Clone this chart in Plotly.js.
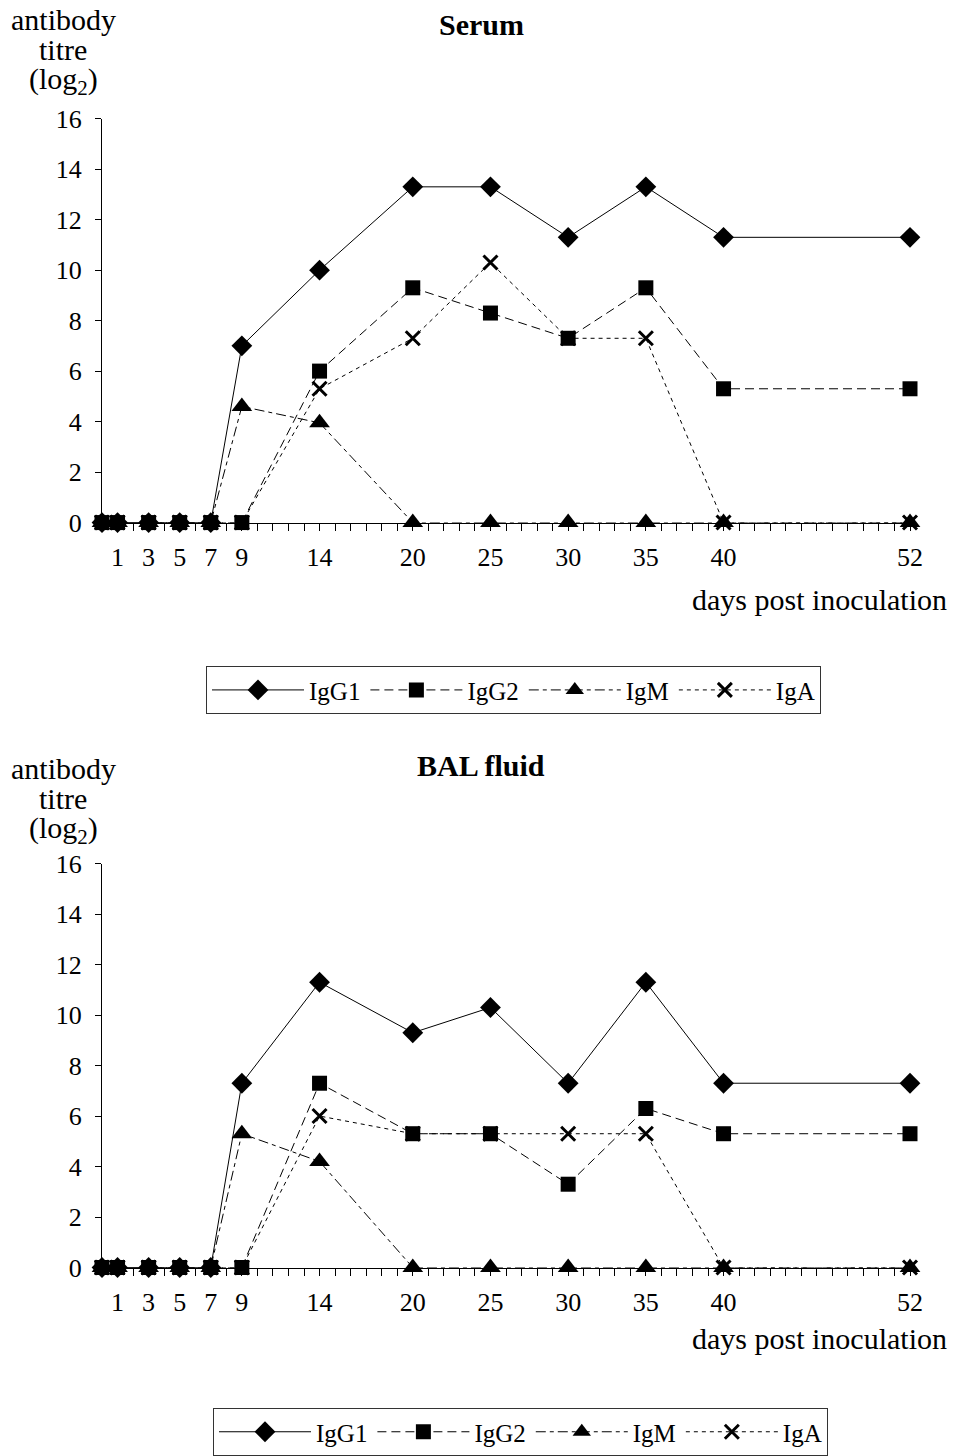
<!DOCTYPE html>
<html>
<head>
<meta charset="utf-8">
<script src="https://cdn.plot.ly/plotly-3.0.1.min.js"></script>
<style>
  html, body { margin: 0; padding: 0; background: #fff; }
  #chart { width: 955px; height: 1456px; }
</style>
</head>
<body>
<div id="chart"></div>
<script>
// ---- data ----
const days = [0, 1, 3, 5, 7, 9, 14, 20, 25, 30, 35, 40, 52];
const tickLabelDays = [1, 3, 5, 7, 9, 14, 20, 25, 30, 35, 40, 52];
const seriesNames = ['IgG1', 'IgG2', 'IgM', 'IgA'];

const serumIgG1 = [0, 0, 0, 0, 0, 7.0, 10.0, 13.3, 13.3, 11.3, 13.3, 11.3, 11.3];
const serumIgG2 = [0, 0, 0, 0, 0, 0, 6.0, 9.3, 8.3, 7.3, 9.3, 5.3, 5.3];
const serumIgM  = [0, 0, 0, 0, 0, 4.6, 3.95, 0, 0, 0, 0, 0, 0];
const serumIgA  = [0, 0, 0, 0, 0, 0, 5.3, 7.3, 10.3, 7.3, 7.3, 0, 0];

const balIgG1 = [0, 0, 0, 0, 0, 7.3, 11.3, 9.3, 10.3, 7.3, 11.3, 7.3, 7.3];
const balIgG2 = [0, 0, 0, 0, 0, 0, 7.3, 5.3, 5.3, 3.3, 6.3, 5.3, 5.3];
const balIgM  = [0, 0, 0, 0, 0, 5.3, 4.2, 0, 0, 0, 0, 0, 0];
const balIgA  = [0, 0, 0, 0, 0, 0, 6.0, 5.3, 5.3, 5.3, 5.3, 0, 0];

// ---- styles ----
const W = 955, H = 1456;
const FONT = '"Liberation Serif", "Times New Roman", Times, serif';
const styles = {
  IgG1: { dash: 'solid', symbol: 'diamond', size: 16, rank: 1 },
  IgG2: { dash: '9px,5px', symbol: 'square', size: 15, rank: 2 },
  IgM:  { dash: '10px,4px,4px,4px', symbol: 'triangle-up', size: 18, rank: 3 },
  IgA:  { dash: '4px,4px', symbol: 'x-thin-open', size: 14, rank: 4 }
};
// draw order (squares on top at the baseline, crosses over triangles)
const drawOrder = ['IgG1', 'IgM', 'IgA', 'IgG2'];

function makeTraces(values, xa, ya, legendId) {
  return drawOrder.map(name => {
    const s = styles[name];
    const marker = { symbol: s.symbol, size: s.size, color: '#000' };
    if (name === 'IgA') marker.line = { width: 3, color: '#000' };
    else marker.line = { width: 0 };
    return {
      x: days, y: values[name], name: name, type: 'scatter', mode: 'lines+markers',
      xaxis: xa, yaxis: ya, legend: legendId, legendrank: s.rank,
      line: { color: '#000', width: 1, dash: s.dash },
      marker: marker, cliponaxis: false, hoverinfo: 'x+y+name'
    };
  });
}

const traces = [
  ...makeTraces({ IgG1: serumIgG1, IgG2: serumIgG2, IgM: serumIgM, IgA: serumIgA }, 'x', 'y', 'legend'),
  ...makeTraces({ IgG1: balIgG1, IgG2: balIgG2, IgM: balIgM, IgA: balIgA }, 'x2', 'y2', 'legend2')
];

const allTickVals = [];
const allTickText = [];
for (let d = 0; d <= 52; d++) {
  allTickVals.push(d);
  allTickText.push(tickLabelDays.includes(d) ? String(d) : '');
}

function xAxis(anchor) {
  return {
    domain: [102 / W, 910 / W], range: [0, 52], anchor: anchor,
    showline: true, linecolor: '#000', linewidth: 1, mirror: false,
    ticks: 'outside', ticklen: 7, tickwidth: 1, tickcolor: '#000',
    tickmode: 'array', tickvals: allTickVals, ticktext: allTickText,
    showgrid: false, zeroline: false, fixedrange: true,
    tickfont: { family: FONT, size: 26, color: '#000' }, ticklabelstandoff: 4
  };
}
function yAxis(anchor, top, bottom) {
  return {
    domain: [(H - bottom) / H, (H - top) / H], range: [0, 16], anchor: anchor,
    showline: true, linecolor: '#000', linewidth: 1,
    ticks: 'outside', ticklen: 6, tickwidth: 1, tickcolor: '#000',
    tickmode: 'linear', tick0: 0, dtick: 2,
    showgrid: false, zeroline: false, fixedrange: true,
    tickfont: { family: FONT, size: 26, color: '#000' }, ticklabelstandoff: 8
  };
}

function ann(text, xpx, ypx, size, anchor, bold) {
  return {
    text: bold ? '<b>' + text + '</b>' : text,
    xref: 'paper', yref: 'paper', x: xpx / W, y: (H - ypx) / H,
    xanchor: anchor, yanchor: 'middle', showarrow: false,
    font: { family: FONT, size: size, color: '#000' }
  };
}

const annotations = [
  ann('Serum', 481, 25, 30, 'center', true),
  ann('antibody', 63, 20, 30, 'center'),
  ann('titre', 63, 50, 30, 'center'),
  ann('(log<sub>2</sub>)', 63, 81, 30, 'center'),
  ann('days post inoculation', 949, 601, 30, 'right'),
  ann('BAL fluid', 481, 768, 30, 'center', true),
  ann('antibody', 63, 771, 30, 'center'),
  ann('titre', 63, 801, 30, 'center'),
  ann('(log<sub>2</sub>)', 63, 832, 30, 'center'),
  ann('days post inoculation', 949, 1342, 30, 'right')
];

function legendCfg(xpx, ypx) {
  return {
    orientation: 'h', x: xpx / W, y: (H - ypx) / H, xanchor: 'left', yanchor: 'top',
    bgcolor: '#fff', bordercolor: '#333', borderwidth: 1,
    font: { family: FONT, size: 25, color: '#000' },
    itemwidth: 92, traceorder: 'normal', itemclick: false, itemdoubleclick: false
  };
}

const layout = {
  width: W, height: H,
  margin: { l: 0, r: 0, t: 0, b: 0 },
  paper_bgcolor: '#fff', plot_bgcolor: '#fff',
  font: { family: FONT, color: '#000' },
  xaxis: xAxis('y'), yaxis: yAxis('x', 119, 524),
  xaxis2: xAxis('y2'), yaxis2: yAxis('x2', 866, 1271),
  legend: legendCfg(206, 668),
  legend2: legendCfg(213, 1412),
  annotations: annotations,
  showlegend: true
};

Plotly.newPlot('chart', traces, layout, { displayModeBar: false, staticPlot: false });
</script>
</body>
</html>
